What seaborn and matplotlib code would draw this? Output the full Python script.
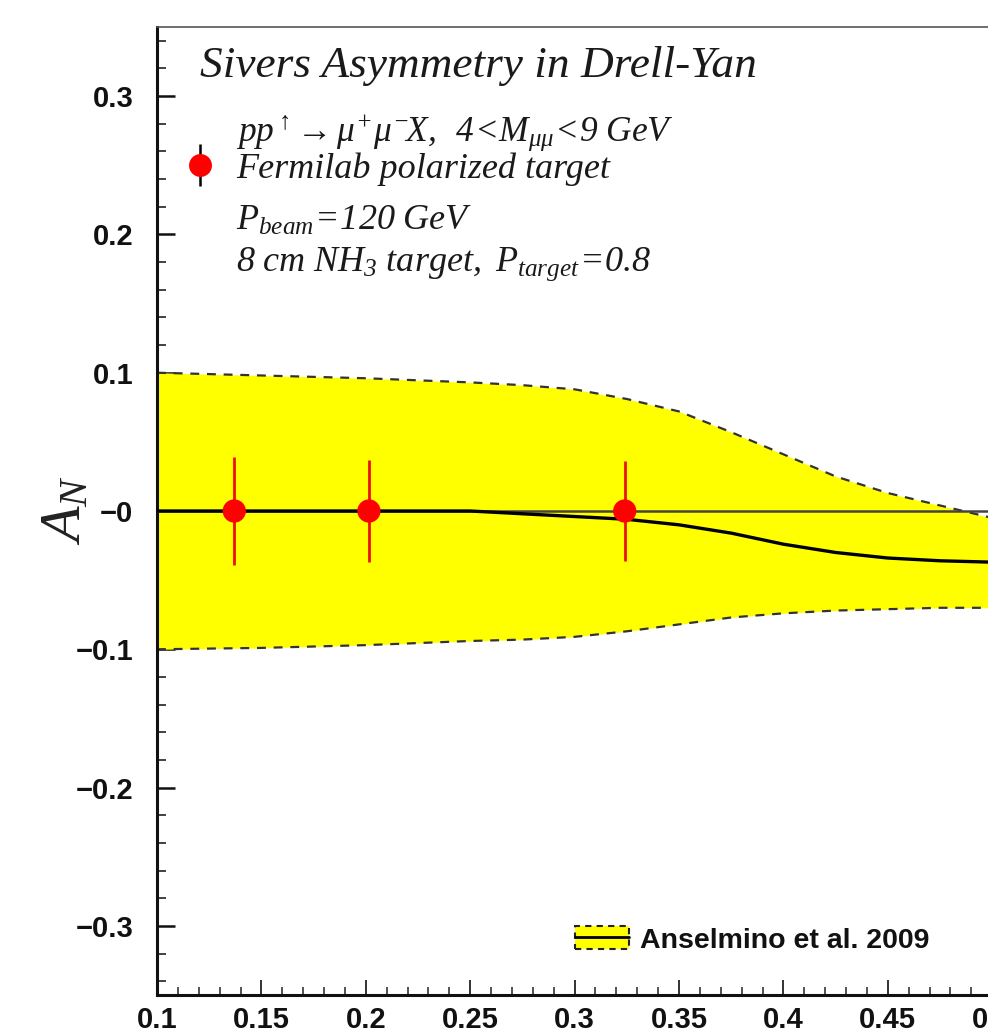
import matplotlib
matplotlib.use("Agg")
import matplotlib.pyplot as plt
import seaborn as sns
import pandas as pd
from matplotlib.lines import Line2D
from matplotlib.patches import Patch
from matplotlib.legend_handler import HandlerTuple
from matplotlib.ticker import MultipleLocator, FixedLocator, FixedFormatter

# ---------------------------------------------
# Данные
# ---------------------------------------------
x_theory = [0.10, 0.15, 0.20, 0.25, 0.275, 0.30, 0.325, 0.35, 0.375, 0.40, 0.425, 0.45, 0.475, 0.50, 0.52]
band_upper = [0.100, 0.098, 0.096, 0.093, 0.091, 0.088, 0.081, 0.072, 0.057, 0.041, 0.025, 0.013, 0.004, -0.005, -0.008]
band_lower = [-0.100, -0.099, -0.097, -0.094, -0.093, -0.091, -0.087, -0.082, -0.077, -0.074, -0.072, -0.071, -0.070, -0.070, -0.070]
central = [0.0, 0.0, 0.0, 0.0, -0.002, -0.004, -0.006, -0.010, -0.016, -0.024, -0.030, -0.034, -0.036, -0.037, -0.038]

x_points = [0.137, 0.2015, 0.324]
y_points = [0.0, 0.0, 0.0]
y_errors = [0.039, 0.037, 0.036]

y_ticks = [0.3, 0.2, 0.1, 0.0, -0.1, -0.2, -0.3]
y_tick_labels = ["0.3", "0.2", "0.1", "\u22120", "\u22120.1", "\u22120.2", "\u22120.3"]
x_ticks = [0.1, 0.15, 0.2, 0.25, 0.3, 0.35, 0.4, 0.45, 0.5, 0.55, 0.6]
x_tick_labels = ["0.1", "0.15", "0.2", "0.25", "0.3", "0.35", "0.4", "0.45", "0.5", "0.55", "0.6"]

theory_df = pd.DataFrame({"x": x_theory, "upper": band_upper,
                          "lower": band_lower, "central": central})
points_df = pd.DataFrame({"x": x_points, "y": y_points, "err": y_errors})

sns.set_theme(style="ticks")
plt.rcParams["font.family"] = ["Liberation Sans", "DejaVu Sans"]
plt.rcParams["mathtext.fontset"] = "custom"
plt.rcParams["mathtext.it"] = "Liberation Serif:italic"
plt.rcParams["mathtext.rm"] = "Liberation Serif:italic"
plt.rcParams["mathtext.bf"] = "Liberation Serif:italic"

W, H = 988, 1034
fig = plt.figure(figsize=(W / 100, H / 100), dpi=100)
ax = fig.add_axes([157 / W, 1 - 995 / H, 1044 / W, 968 / H])

# --- полоса неопределенности ---
ax.fill_between(theory_df["x"], theory_df["lower"], theory_df["upper"],
                color="#ffff00", linewidth=0, zorder=1)
sns.lineplot(data=theory_df, x="x", y="upper", ax=ax, color="#333333",
             linewidth=1.6, dashes=(4, 3.5), zorder=2)
sns.lineplot(data=theory_df, x="x", y="lower", ax=ax, color="#333333",
             linewidth=1.6, dashes=(4, 3.5), zorder=2)
ax.axhline(0, color="#444444", linewidth=1.8, zorder=3)
sns.lineplot(data=theory_df, x="x", y="central", ax=ax, color="black",
             linewidth=2.4, zorder=4)

# --- точки ---
ax.errorbar(points_df["x"], points_df["y"], yerr=points_df["err"], fmt="none",
            ecolor="#ee1100", elinewidth=2.0, capsize=0, zorder=5)
sns.scatterplot(data=points_df, x="x", y="y", ax=ax, color="#ff0000", s=280,
                edgecolor="none", zorder=6, legend=False)

ax.set_xlim(0.1, 0.6)
ax.set_ylim(-0.35, 0.35)
ax.set_xlabel("")
ax.set_ylabel("")

ax.xaxis.set_major_locator(FixedLocator(x_ticks))
ax.xaxis.set_major_formatter(FixedFormatter(x_tick_labels))
ax.xaxis.set_minor_locator(MultipleLocator(0.01))
ax.yaxis.set_major_locator(FixedLocator(y_ticks))
ax.yaxis.set_major_formatter(FixedFormatter(y_tick_labels))
ax.yaxis.set_minor_locator(MultipleLocator(0.02))

ax.tick_params(axis="x", which="major", direction="in", length=10.5, width=1.3,
               pad=8, labelsize=21, top=False, color="#222222")
ax.tick_params(axis="x", which="minor", direction="in", length=5.5, width=1.1,
               top=False, color="#222222")
ax.tick_params(axis="y", which="major", direction="in", length=13, width=1.8,
               pad=17, labelsize=21, right=False, color="#111111")
ax.tick_params(axis="y", which="minor", direction="in", length=6.5, width=1.2,
               right=False, color="#222222")
for lab in ax.get_xticklabels() + ax.get_yticklabels():
    lab.set_fontweight("bold")
    lab.set_color("#111111")

for side in ["left", "bottom"]:
    ax.spines[side].set_linewidth(2.2)
    ax.spines[side].set_color("#111111")
ax.spines["top"].set_linewidth(1.2)
ax.spines["top"].set_color("#555555")
ax.spines["right"].set_visible(False)

# --- подписи ---
tc = "#1a1a1a"
fig.text(200 / W, 1 - 77 / H, "Sivers Asymmetry in Drell-Yan", fontsize=32.7,
         family="Liberation Serif", style="italic", color=tc, va="baseline")
fig.text(236 / W, 1 - 141 / H,
         r"$pp^{\uparrow}\!\rightarrow\mu^{+}\mu^{-}\!X,\;\;4\!<\!M_{\mu\mu}\!<\!9\ GeV$",
         fontsize=25.5, color=tc, va="baseline")
fig.text(236 / W, 1 - 230 / H, r"$P_{beam}\!=\!120\ GeV$",
         fontsize=26, color=tc, va="baseline")
fig.text(236 / W, 1 - 271 / H, r"$8\ cm\ NH_{3}\ target,\ P_{target}\!=\!0.8$",
         fontsize=26, color=tc, va="baseline")
fig.text(65 / W, 1 - 510 / H, r"$A_{N}$", fontsize=42, rotation=90,
         color="#222222", ha="center", va="center")

# легенда для точек
data_handle = (Line2D([], [], color="black", marker="|", markersize=30,
                      markeredgewidth=1.8, linestyle="none"),
               Line2D([], [], color="#ff0000", marker="o", markersize=16.5,
                      markeredgewidth=0, linestyle="none"))
leg1 = ax.legend([data_handle], ["Fermilab polarized target"],
                 handler_map={tuple: HandlerTuple(ndivide=1, pad=0)},
                 loc="center left", bbox_to_anchor=(164 / W, 1 - 169 / H),
                 bbox_transform=fig.transFigure, frameon=False, borderpad=0,
                 handlelength=1.0, handletextpad=0.5,
                 prop={"family": "Liberation Serif", "style": "italic", "size": 26})
for t in leg1.get_texts():
    t.set_color(tc)
ax.add_artist(leg1)

# легенда для модели
band_handle = (Patch(facecolor="#ffff00", edgecolor="#222222", linestyle=(0, (3, 2.5)),
                     linewidth=1.5),
               Line2D([], [], color="black", linewidth=2.0))
leg2 = ax.legend([band_handle], ["Anselmino et al. 2009"],
                 handler_map={tuple: HandlerTuple(ndivide=1, pad=0)},
                 loc="center left", bbox_to_anchor=(561 / W, 1 - 940 / H),
                 bbox_transform=fig.transFigure, frameon=False, borderpad=0,
                 handlelength=1.9, handleheight=0.84, handletextpad=0.39,
                 prop={"family": "Liberation Sans", "weight": "bold", "size": 20.5})
for t in leg2.get_texts():
    t.set_color("#111111")

fig.savefig("out.png", dpi=100)
